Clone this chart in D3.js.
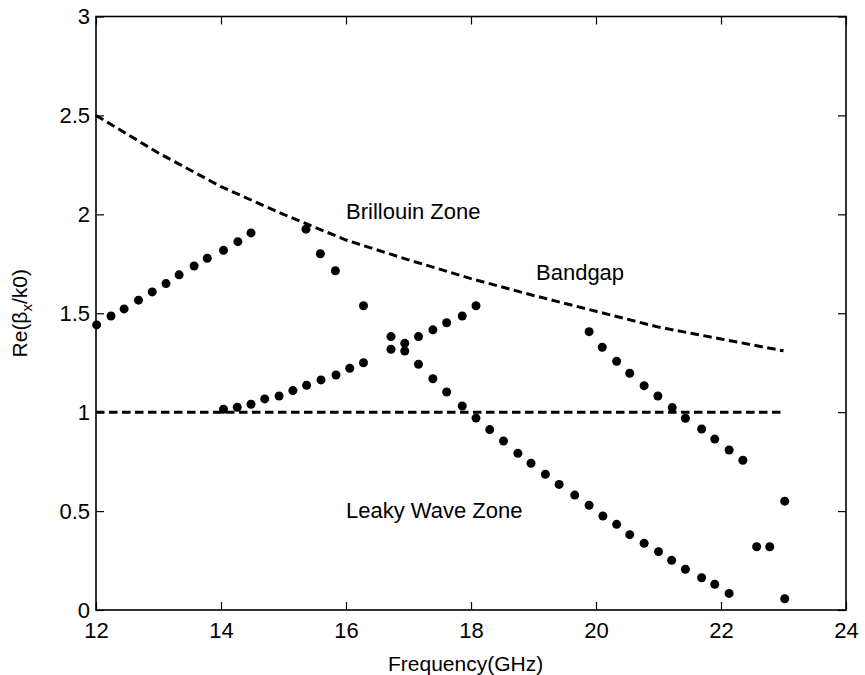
<!DOCTYPE html>
<html>
<head>
<meta charset="utf-8">
<script src="https://cdn.jsdelivr.net/npm/d3@7/dist/d3.min.js"></script>
<style>
  html, body { margin: 0; padding: 0; background: #fff; }
  svg { display: block; font-family: "Liberation Sans", Arial, sans-serif; }
</style>
</head>
<body>
<svg id="chart" width="865" height="675"></svg>
<script>
// Dispersion diagram: Re(beta_x / k0) of the periodic structure versus frequency.

// Mode branches (frequency in GHz, normalized phase constant)
const mode1Freq = [12.01, 12.24, 12.45, 12.68, 12.90, 13.12, 13.33, 13.57, 13.78, 14.04, 14.27, 14.48];
const mode1Beta = [1.441, 1.486, 1.522, 1.566, 1.608, 1.650, 1.694, 1.739, 1.778, 1.818, 1.862, 1.906];

const mode2Freq = [15.36, 15.59, 15.83, 16.28, 16.72, 16.94, 17.16, 17.39, 17.61, 17.86, 18.08, 18.30,
                   18.52, 18.75, 18.96, 19.19, 19.41, 19.66, 19.89, 20.11, 20.33, 20.54, 20.77, 21.00,
                   21.21, 21.43, 21.69, 21.90, 22.13];
const mode2Beta = [1.925, 1.801, 1.715, 1.538, 1.382, 1.309, 1.242, 1.169, 1.102, 1.031, 0.970, 0.912,
                   0.854, 0.792, 0.742, 0.686, 0.635, 0.581, 0.529, 0.475, 0.433, 0.381, 0.337, 0.295,
                   0.251, 0.206, 0.163, 0.130, 0.084];

const mode3Freq = [14.04, 14.26, 14.48, 14.70, 14.93, 15.15, 15.37, 15.60, 15.84, 16.06, 16.28, 16.72,
                   16.94, 17.16, 17.39, 17.61, 17.86, 18.08];
const mode3Beta = [1.015, 1.025, 1.040, 1.067, 1.082, 1.109, 1.136, 1.163, 1.188, 1.222, 1.250, 1.318,
                   1.348, 1.382, 1.416, 1.452, 1.486, 1.538];

const mode4Freq = [19.89, 20.10, 20.33, 20.54, 20.77, 20.99, 21.22, 21.43, 21.69, 21.90, 22.13, 22.35];
const mode4Beta = [1.407, 1.328, 1.257, 1.197, 1.134, 1.082, 1.023, 0.969, 0.915, 0.864, 0.809, 0.757];

const mode5Freq = [22.57, 22.78, 23.02, 23.02];
const mode5Beta = [0.320, 0.320, 0.550, 0.057];

// Brillouin zone boundary (dashed curve) and light line beta = k0
const boundaryFreq = [12, 13, 14, 15, 16, 17, 18, 19, 20, 21, 22, 23];
const boundaryBeta = [2.50, 2.31, 2.14, 2.00, 1.87, 1.77, 1.675, 1.59, 1.51, 1.43, 1.37, 1.31];

const lightFreq = [12, 23];
const lightBeta = [1, 1];

// Axis ticks
const xTicks = [12, 14, 16, 18, 20, 22, 24];
const yTicks = [0, 0.5, 1, 1.5, 2, 2.5, 3];
const yTickLabels = ["0", "0.5", "1", "1.5", "2", "2.5", "3"];

// Region annotations
const annotations = [
  { text: "Brillouin Zone", f: 16.0, b: 1.975 },
  { text: "Bandgap", f: 19.04, b: 1.67 },
  { text: "Leaky Wave Zone", f: 16.0, b: 0.466 }
];

const svg = d3.select("#chart");
const plotLeft = 96, plotRight = 846, plotTop = 16.5, plotBottom = 610;

const x = d3.scaleLinear().domain([12, 24]).range([plotLeft, plotRight]);
const y = d3.scaleLinear().domain([0, 3]).range([plotBottom, plotTop]);

const ink = "#000";
const tickFont = 22;

// Axes with inward ticks, mirrored on top and right
const axisB = d3.axisBottom(x).tickValues(xTicks).tickSize(-8).tickPadding(12).tickFormat(d3.format("d"));
const axisT = d3.axisTop(x).tickValues(xTicks).tickSize(-8).tickFormat("");
const axisL = d3.axisLeft(y).tickValues(yTicks).tickSize(-8).tickPadding(6)
  .tickFormat((d, i) => yTickLabels[i]);
const axisR = d3.axisRight(y).tickValues(yTicks).tickSize(-8).tickFormat("");

function styleAxis(g) {
  g.select(".domain").remove();
  g.selectAll(".tick line").attr("stroke", ink).attr("stroke-width", 1.2);
  g.selectAll(".tick text").attr("fill", ink).attr("font-size", tickFont)
    .attr("font-family", "Liberation Sans, Arial, sans-serif");
}

svg.append("g").attr("transform", `translate(0,${plotBottom})`).call(axisB).call(styleAxis);
svg.append("g").attr("transform", `translate(0,${plotTop})`).call(axisT).call(styleAxis);
svg.append("g").attr("transform", `translate(${plotLeft},0)`).call(axisL).call(styleAxis);
svg.append("g").attr("transform", `translate(${plotRight},0)`).call(axisR).call(styleAxis);

// Plot box
svg.append("rect")
  .attr("x", plotLeft).attr("y", plotTop)
  .attr("width", plotRight - plotLeft).attr("height", plotBottom - plotTop)
  .attr("fill", "none").attr("stroke", ink).attr("stroke-width", 1.6);

// Dashed reference curves
const line = d3.line().x(d => x(d[0])).y(d => y(d[1]));
const dashed = (fs, bs) => svg.append("path")
  .datum(fs.map((f, i) => [f, bs[i]]))
  .attr("d", line)
  .attr("fill", "none").attr("stroke", ink)
  .attr("stroke-width", 3).attr("stroke-dasharray", "8.5,4.5");

dashed(boundaryFreq, boundaryBeta);
dashed(lightFreq, lightBeta);

// Mode dots
const modes = [
  [mode1Freq, mode1Beta],
  [mode2Freq, mode2Beta],
  [mode3Freq, mode3Beta],
  [mode4Freq, mode4Beta],
  [mode5Freq, mode5Beta]
];
modes.forEach(([fs, bs]) => {
  svg.append("g").selectAll("circle")
    .data(fs.map((f, i) => [f, bs[i]]))
    .join("circle")
    .attr("cx", d => x(d[0])).attr("cy", d => y(d[1]))
    .attr("r", 4.5).attr("fill", ink);
});

// Region labels
svg.append("g").selectAll("text")
  .data(annotations)
  .join("text")
  .attr("x", d => x(d.f)).attr("y", d => y(d.b))
  .attr("font-size", 22).attr("fill", ink)
  .text(d => d.text);

// Axis titles
svg.append("text")
  .attr("x", 388).attr("y", 671)
  .attr("font-size", 21).attr("fill", ink)
  .text("Frequency(GHz)");

const yTitle = svg.append("text")
  .attr("transform", `translate(27,${(plotTop + plotBottom) / 2}) rotate(-90)`)
  .attr("text-anchor", "middle").attr("font-size", 21).attr("fill", ink);
yTitle.append("tspan").text("Re(β");
yTitle.append("tspan").attr("font-size", 15).attr("dy", 5).text("x");
yTitle.append("tspan").attr("dy", -5).text("/k0)");
</script>
</body>
</html>
